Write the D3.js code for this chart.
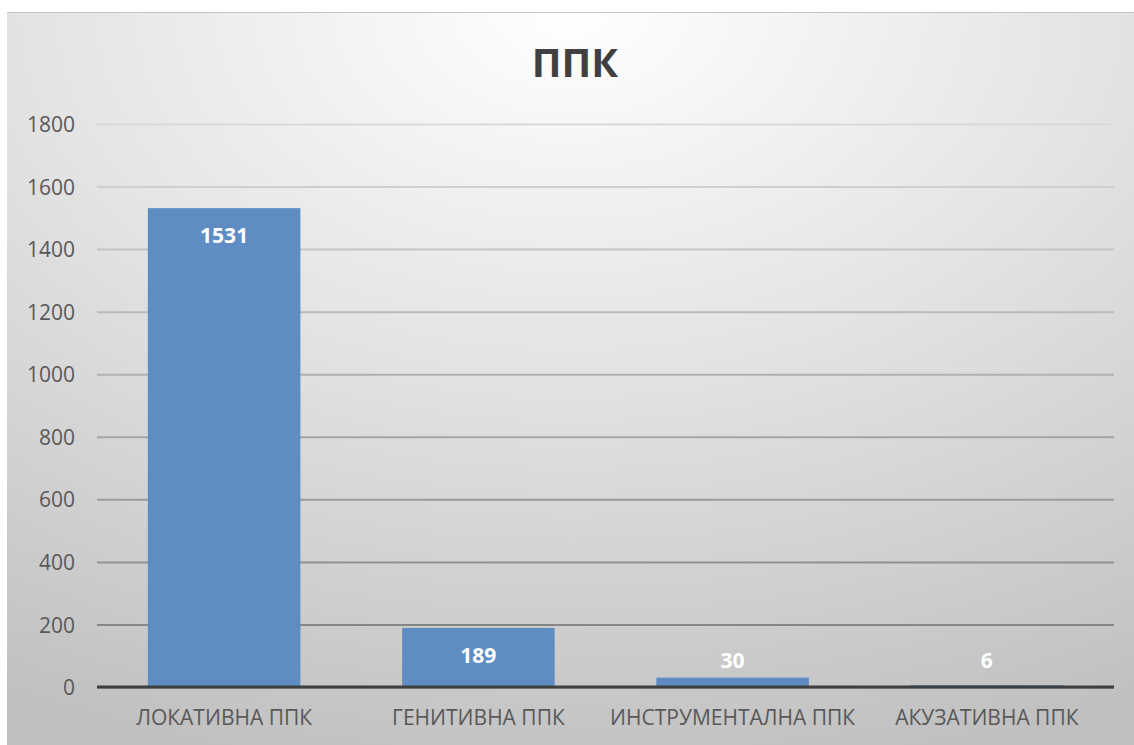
<!DOCTYPE html>
<html>
<head>
<meta charset="utf-8">
<script src="https://cdn.jsdelivr.net/npm/d3@7"></script>
<style>
  body { margin: 0; background: #fff; }
  svg text { font-family: "Open Sans", "Noto Sans", sans-serif; }
</style>
</head>
<body>
<div id="chart"></div>
<script>
// chart data
var categories = ["ЛОКАТИВНА ППК", "ГЕНИТИВНА ППК", "ИНСТРУМЕНТАЛНА ППК", "АКУЗАТИВНА ППК"];
var values = [1531, 189, 30, 6];
var y_ticks = [0, 200, 400, 600, 800, 1000, 1200, 1400, 1600, 1800];
var chart_title = "ППК";

// set up chart parameters
var svg_width = 1134;
var svg_height = 745;
var plot = { left: 97, right: 1114, top: 124, bottom: 687 };

var svg = d3.select("#chart")
    .append("svg")
    .attr("width", svg_width)
    .attr("height", svg_height);

var defs = svg.append("defs");

// background: light in the top middle, grey towards the edges
var bg = defs.append("radialGradient")
    .attr("id", "bg")
    .attr("cx", "50%").attr("cy", "0%").attr("r", "105%")
    .attr("fx", "50%").attr("fy", "0%");
bg.append("stop").attr("offset", "0%").attr("stop-color", "#ffffff");
bg.append("stop").attr("offset", "45%").attr("stop-color", "#e4e4e4");
bg.append("stop").attr("offset", "100%").attr("stop-color", "#c0c0c0");

svg.append("rect")
    .attr("x", 7).attr("y", 12)
    .attr("width", 1127).attr("height", 740)
    .attr("fill", "url(#bg)");
svg.append("line")
    .attr("x1", 7).attr("x2", 1134).attr("y1", 12.5).attr("y2", 12.5)
    .attr("stroke", "#c4c4c4").attr("stroke-width", 1);

// scales
var x_scale = d3.scaleBand()
    .domain(categories)
    .range([plot.left, plot.right])
    .paddingInner(0.4)
    .paddingOuter(0.2);

var y_scale = d3.scaleLinear()
    .domain([0, 1800])
    .range([plot.bottom, plot.top]);

// gridlines get darker towards the bottom
var grid_color = d3.scaleLinear()
    .domain([0, 1800])
    .range(["#7c7c7c", "#d9d9d9"]);

// y axis with gridlines
var left_axis = d3.axisLeft(y_scale)
    .tickValues(y_ticks)
    .tickFormat(d3.format("d"))
    .tickSize(-(plot.right - plot.left))
    .tickPadding(22);

var y_axis = svg.append("g")
    .attr("transform", `translate(${plot.left}, 0)`)
    .call(left_axis);

y_axis.select(".domain").remove();
y_axis.selectAll(".tick line")
    .attr("stroke", d => grid_color(d))
    .attr("stroke-width", 2);
y_axis.selectAll(".tick text")
    .attr("fill", "#595959")
    .attr("font-size", 21)
    .attr("dy", "0.36em");

// bars
svg.selectAll(".bar")
    .data(values)
    .enter()
    .append("rect")
    .attr("class", "bar")
    .attr("x", (d, i) => x_scale(categories[i]))
    .attr("y", d => y_scale(d))
    .attr("width", x_scale.bandwidth())
    .attr("height", d => y_scale(0) - y_scale(d))
    .attr("fill", "#5e8cc3");

// x axis line
svg.append("line")
    .attr("x1", plot.left).attr("x2", plot.right)
    .attr("y1", plot.bottom).attr("y2", plot.bottom)
    .attr("stroke", "#3f3f3f")
    .attr("stroke-width", 3);

// data labels (inside end, pushed up for short bars)
svg.selectAll(".label")
    .data(values)
    .enter()
    .append("text")
    .attr("class", "label")
    .attr("x", (d, i) => x_scale(categories[i]) + x_scale.bandwidth() / 2)
    .attr("y", d => Math.min(y_scale(d) + 35, plot.bottom - 19))
    .attr("text-anchor", "middle")
    .attr("fill", "#ffffff")
    .attr("font-size", 21)
    .attr("font-weight", "bold")
    .text(d => d);

// category labels
svg.selectAll(".cat")
    .data(categories)
    .enter()
    .append("text")
    .attr("class", "cat")
    .attr("x", d => x_scale(d) + x_scale.bandwidth() / 2)
    .attr("y", 725)
    .attr("text-anchor", "middle")
    .attr("fill", "#595959")
    .attr("font-size", 21)
    .text(d => d);

// title
svg.append("text")
    .attr("x", 575)
    .attr("y", 77)
    .attr("text-anchor", "middle")
    .attr("fill", "#404040")
    .attr("font-size", 40)
    .attr("font-weight", "bold")
    .text(chart_title);
</script>
</body>
</html>
